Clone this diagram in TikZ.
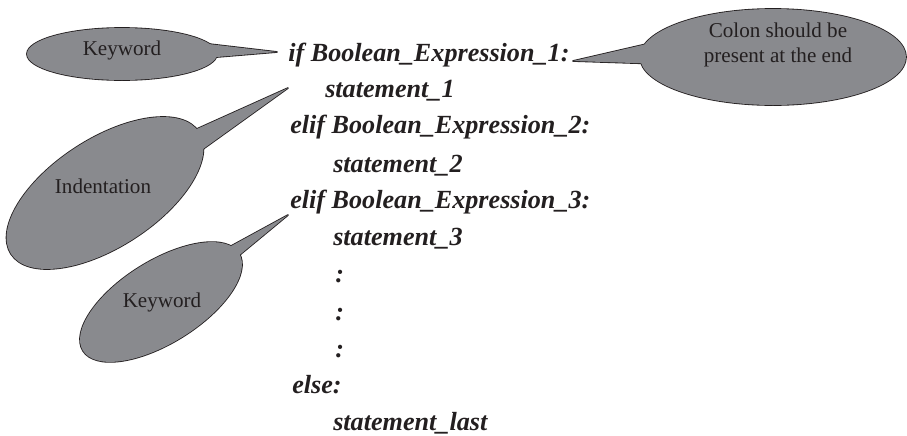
\documentclass[tikz,border=0pt]{standalone}
\usepackage{fontspec}
\setmainfont{Liberation Serif}
\definecolor{bubblegray}{RGB}{137,138,142}
\definecolor{inkgray}{RGB}{35,31,32}
\tikzset{
  code/.style={anchor=base west, inner sep=0pt, text=inkgray,
    font=\fontsize{18.6}{22}\selectfont\bfseries\itshape},
  note/.style={inner sep=0pt, text=inkgray, align=center,
    font=\fontsize{15}{17.7}\selectfont},
  rim/.style={draw=inkgray, line width=1.2pt, line join=round},
  body/.style={fill=bubblegray},
}

\begin{document}
\begin{tikzpicture}[x=0.025cm, y=0.025cm]
  \useasboundingbox (0,0) rectangle (907,-435);

  % tips of the callouts
  \coordinate (kwTip) at (277,-52);
  \coordinate (indTip) at (288,-88);
  \coordinate (elifTip) at (288,-215);
  \coordinate (colonTip) at (573,-61);

  % outlines first, fills on top so the tails merge with the ellipses
  \draw[rim] (122,-54) ellipse [x radius=95, y radius=26];
  \draw[rim] (kwTip) -- (200,-43) -- (200,-58.4) -- cycle;
  \draw[rim, rotate around={33:(105,-193)}] (105,-193) ellipse [x radius=112, y radius=54];
  \draw[rim] (indTip) -- (179,-137) -- (185,-162) -- cycle;
  \draw[rim, rotate around={32:(161,-302)}] (161,-302) ellipse [x radius=92, y radius=41];
  \draw[rim] (elifTip) -- (211,-257) -- (219,-272) -- cycle;
  \draw[rim] (773,-57) ellipse [x radius=133, y radius=48];
  \draw[rim] (colonTip) -- (664,-40) -- (663,-64) -- cycle;

  \fill[body] (122,-54) ellipse [x radius=95, y radius=26];
  \fill[body] (kwTip) -- (200,-43) -- (200,-58.4) -- cycle;
  \fill[body, rotate around={33:(105,-193)}] (105,-193) ellipse [x radius=112, y radius=54];
  \fill[body] (indTip) -- (179,-137) -- (185,-162) -- cycle;
  \fill[body, rotate around={32:(161,-302)}] (161,-302) ellipse [x radius=92, y radius=41];
  \fill[body] (elifTip) -- (211,-257) -- (219,-272) -- cycle;
  \fill[body] (773,-57) ellipse [x radius=133, y radius=48];
  \fill[body] (colonTip) -- (664,-40) -- (663,-64) -- cycle;

  % callout texts
  \node[note] (kwNote) at (122,-50) {Keyword};
  \node[note] (indNote) at (103,-186) {Indentation};
  \node[note] (elifNote) at (162,-302) {Keyword};
  \node[note] (colonNote) at (778,-45) {Colon should be\\present at the end};

  % the code
  \node[code] (ifLine) at (288,-61) {if Boolean\_Expression\_1:};
  \node[code] (stmtA) at (325,-97) {statement\_1};
  \node[code] (elifA) at (290,-133) {elif Boolean\_Expression\_2:};
  \node[code] (stmtB) at (333,-172) {statement\_2};
  \node[code] (elifB) at (290,-208) {elif Boolean\_Expression\_3:};
  \node[code] (stmtC) at (333,-245) {statement\_3};
  \node[code] (dotsA) at (335,-282) {:};
  \node[code] (dotsB) at (335,-320) {:};
  \node[code] (dotsC) at (335,-357) {:};
  \node[code] (elseLine) at (292,-393) {else:};
  \node[code] (stmtLast) at (333,-430) {statement\_last};
\end{tikzpicture}
\end{document}
